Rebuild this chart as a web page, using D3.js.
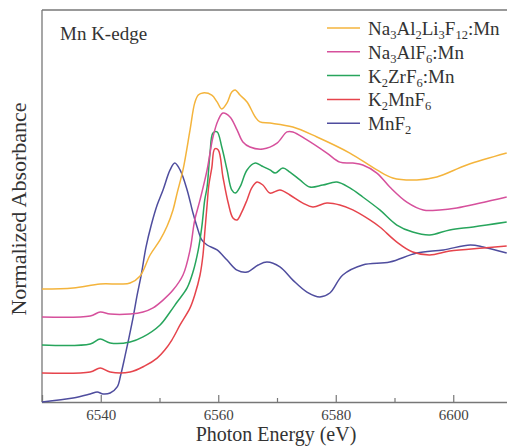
<!DOCTYPE html>
<html>
<head>
<meta charset="utf-8">
<script src="https://cdn.jsdelivr.net/npm/d3@7"></script>
<style>
  body { margin: 0; background: #fff; }
  svg { display: block; }
  svg text { font-family: "Liberation Serif", "Times New Roman", serif; }
</style>
</head>
<body>
<div id="chart"></div>
<script>
// Mn K-edge XANES spectra
var xTicks = [6540, 6560, 6580, 6600];
var xMinorTicks = [6550, 6570, 6590];

// Na3Al2Li3F12:Mn
var naliE = [6530, 6535.3, 6539.9, 6543.3, 6545.0, 6546.7, 6548.4, 6550.1, 6551.3, 6552.3, 6553.0, 6554.0, 6555.2, 6556.0, 6556.6, 6557.4, 6558.9, 6559.8, 6560.6, 6561.5, 6562.3, 6562.9, 6563.7, 6564.9, 6566.3, 6567.1, 6568.8, 6572.7, 6576.8, 6582.4, 6587.0, 6589.7, 6593.8, 6597.2, 6602.3, 6609.1];
var naliA = [0.577, 0.582, 0.602, 0.602, 0.607, 0.643, 0.750, 0.827, 0.898, 0.980, 1.066, 1.184, 1.388, 1.526, 1.566, 1.577, 1.566, 1.531, 1.495, 1.526, 1.582, 1.592, 1.566, 1.531, 1.454, 1.429, 1.423, 1.403, 1.352, 1.270, 1.184, 1.143, 1.133, 1.148, 1.209, 1.270];

// Na3AlF6:Mn
var naalE = [6530, 6538.2, 6539.9, 6541.6, 6545.0, 6547.2, 6548.9, 6550.6, 6552.3, 6554.0, 6555.2, 6556.0, 6556.9, 6558.1, 6559.1, 6560.0, 6560.8, 6562.0, 6563.2, 6564.2, 6565.4, 6567.6, 6570.0, 6571.7, 6572.7, 6575.1, 6578.5, 6580.7, 6582.9, 6584.6, 6587.0, 6589.2, 6592.1, 6594.9, 6597.7, 6600.6, 6604.6, 6609.1];
var naalA = [0.434, 0.439, 0.459, 0.449, 0.449, 0.459, 0.480, 0.520, 0.571, 0.648, 0.776, 0.929, 1.031, 1.184, 1.352, 1.439, 1.474, 1.454, 1.388, 1.327, 1.301, 1.291, 1.321, 1.378, 1.378, 1.337, 1.270, 1.224, 1.219, 1.209, 1.168, 1.097, 1.020, 0.980, 0.980, 0.990, 1.015, 1.046];

// K2ZrF6:Mn
var kzrE = [6530, 6538.2, 6539.9, 6541.6, 6545.0, 6547.2, 6550.1, 6551.8, 6553.0, 6554.7, 6555.7, 6556.6, 6557.2, 6557.7, 6558.1, 6558.6, 6559.1, 6559.8, 6560.6, 6561.5, 6562.3, 6562.9, 6563.7, 6564.9, 6566.3, 6567.4, 6568.8, 6569.7, 6571.0, 6572.2, 6573.9, 6575.6, 6577.8, 6580.2, 6582.4, 6584.6, 6587.5, 6590.4, 6593.1, 6596.0, 6599.4, 6603.4, 6609.1];
var kzrA = [0.291, 0.296, 0.321, 0.301, 0.306, 0.332, 0.393, 0.459, 0.510, 0.582, 0.663, 0.776, 0.893, 1.031, 1.097, 1.270, 1.372, 1.378, 1.301, 1.184, 1.082, 1.066, 1.097, 1.184, 1.219, 1.204, 1.184, 1.168, 1.194, 1.173, 1.133, 1.097, 1.107, 1.122, 1.092, 1.046, 0.980, 0.903, 0.867, 0.852, 0.878, 0.893, 0.918];

// K2MnF6
var kmnE = [6530, 6538.2, 6539.9, 6541.6, 6545.0, 6547.5, 6549.6, 6550.9, 6552.1, 6553.5, 6555.2, 6556.0, 6556.9, 6557.4, 6557.7, 6558.1, 6558.4, 6558.9, 6559.4, 6560.0, 6560.8, 6561.7, 6562.5, 6563.2, 6564.0, 6564.9, 6565.7, 6566.6, 6567.6, 6568.8, 6570.5, 6572.2, 6574.4, 6576.1, 6578.5, 6580.7, 6582.9, 6585.8, 6587.5, 6590.4, 6593.1, 6596.0, 6599.4, 6605.1, 6609.1];
var kmnA = [0.148, 0.153, 0.173, 0.153, 0.153, 0.184, 0.224, 0.265, 0.316, 0.393, 0.480, 0.546, 0.648, 0.750, 0.862, 1.005, 1.107, 1.194, 1.291, 1.286, 1.148, 1.015, 0.939, 0.929, 0.969, 1.031, 1.092, 1.122, 1.107, 1.066, 1.082, 1.056, 1.015, 0.995, 1.015, 1.005, 0.980, 0.929, 0.893, 0.816, 0.765, 0.750, 0.770, 0.786, 0.796];

// MnF2
var mnf2E = [6530, 6535.3, 6538.2, 6539.4, 6540.4, 6541.6, 6542.8, 6543.4, 6544.1, 6544.8, 6545.5, 6546.2, 6546.9, 6547.7, 6548.6, 6549.6, 6550.6, 6551.8, 6552.6, 6553.5, 6554.7, 6555.7, 6556.4, 6557.2, 6558.1, 6559.8, 6561.5, 6563.2, 6564.9, 6566.8, 6568.3, 6570.5, 6572.7, 6575.1, 6577.3, 6579.0, 6581.2, 6584.6, 6589.2, 6593.8, 6598.3, 6602.9, 6605.1, 6609.1];
var mnf2A = [0.000, 0.020, 0.041, 0.051, 0.041, 0.046, 0.077, 0.138, 0.230, 0.327, 0.430, 0.546, 0.650, 0.790, 0.903, 1.005, 1.082, 1.184, 1.219, 1.184, 1.082, 0.964, 0.893, 0.827, 0.801, 0.776, 0.724, 0.673, 0.663, 0.699, 0.714, 0.689, 0.622, 0.561, 0.536, 0.556, 0.648, 0.699, 0.714, 0.760, 0.776, 0.801, 0.791, 0.760];

// legend entries: parts as [text, isSubscript]
var seriesNames = [
    [["Na", 0], ["3", 1], ["Al", 0], ["2", 1], ["Li", 0], ["3", 1], ["F", 0], ["12", 1], [":Mn", 0]],
    [["Na", 0], ["3", 1], ["AlF", 0], ["6", 1], [":Mn", 0]],
    [["K", 0], ["2", 1], ["ZrF", 0], ["6", 1], [":Mn", 0]],
    [["K", 0], ["2", 1], ["MnF", 0], ["6", 1]],
    [["MnF", 0], ["2", 1]]
];
var seriesColors = ["#f4b43c", "#d6509c", "#27a55c", "#e6444c", "#4f4d9e"];

var series = [
    { e: naliE, a: naliA },
    { e: naalE, a: naalA },
    { e: kzrE, a: kzrA },
    { e: kmnE, a: kmnA },
    { e: mnf2E, a: mnf2A }
];

var svgWidth = 507;
var svgHeight = 446;
var margin = { top: 10, right: -5, bottom: 44, left: 42 };
var chartWidth = svgWidth - margin.left - margin.right;
var chartHeight = svgHeight - margin.top - margin.bottom;

var svg = d3.select('#chart').append('svg')
    .attr('width', svgWidth)
    .attr('height', svgHeight);

var chartGroup = svg.append('g')
    .attr('transform', `translate(${margin.left}, ${margin.top})`);

var xScale = d3.scaleLinear().domain([6530, 6610]).range([0, chartWidth]);
var yScale = d3.scaleLinear().domain([0, 2]).range([chartHeight, 0]);

// frame (left and top), bottom handled by axis
chartGroup.append('line')
    .attr('x1', 0).attr('x2', 0).attr('y1', 0).attr('y2', chartHeight)
    .attr('stroke', '#777').attr('stroke-width', 1.3);
chartGroup.append('line')
    .attr('x1', 0).attr('x2', chartWidth).attr('y1', 0).attr('y2', 0)
    .attr('stroke', '#777').attr('stroke-width', 1.3);

// bottom axis with inward ticks
var bottomAxis = d3.axisBottom(xScale).tickValues(xTicks).tickSize(-7).tickPadding(7).tickFormat(d3.format('d'));
var xAxisG = chartGroup.append('g')
    .attr('transform', `translate(0, ${chartHeight})`)
    .call(bottomAxis);
xAxisG.attr('font-family', null).attr('font-size', null);
xAxisG.select('.domain').attr('stroke', '#777').attr('stroke-width', 1.3);
xAxisG.selectAll('.tick line').attr('stroke', '#777').attr('stroke-width', 1.2);
xAxisG.selectAll('.tick text')
    .attr('fill', '#444')
    .style('font-size', '15px');

var minorAxis = d3.axisBottom(xScale).tickValues(xMinorTicks).tickSize(-4).tickFormat('');
var minorG = chartGroup.append('g')
    .attr('transform', `translate(0, ${chartHeight})`)
    .call(minorAxis);
minorG.select('.domain').remove();
minorG.selectAll('.tick line').attr('stroke', '#777').attr('stroke-width', 1.2);

// spectra
var line = d3.line()
    .x(d => xScale(d[0]))
    .y(d => yScale(d[1]))
    .curve(d3.curveCatmullRom.alpha(0.5));

// draw from bottom to top so the yellow curve sits above
for (var i = series.length - 1; i >= 0; i--) {
    var pts = series[i].e.map((e, j) => [e, series[i].a[j]]);
    chartGroup.append('path')
        .datum(pts)
        .attr('d', line)
        .attr('fill', 'none')
        .attr('stroke', seriesColors[i])
        .attr('stroke-width', 1.5)
        .attr('stroke-linejoin', 'round');
}

// panel label
chartGroup.append('text')
    .attr('x', 18)
    .attr('y', 30)
    .style('font-size', '19px')
    .attr('fill', '#333')
    .text('Mn K-edge');

// legend
var legend = svg.append('g').attr('transform', 'translate(327, 28)');
seriesNames.forEach(function (parts, i) {
    var row = legend.append('g').attr('transform', `translate(0, ${i * 23.8})`);
    row.append('line')
        .attr('x1', 0).attr('x2', 33).attr('y1', 0).attr('y2', 0)
        .attr('stroke', seriesColors[i]).attr('stroke-width', 1.5);
    var t = row.append('text')
        .attr('x', 41)
        .attr('y', 7)
        .attr('fill', '#333')
        .style('font-size', '19px');
    var shifted = false;
    parts.forEach(function (p) {
        var span = t.append('tspan').text(p[0]);
        if (p[1]) {
            span.style('font-size', '12.5px').attr('dy', shifted ? 0 : 4);
            shifted = true;
        } else {
            span.attr('dy', shifted ? -4 : 0);
            shifted = false;
        }
    });
});

// axis titles
svg.append('text')
    .attr('x', 276)
    .attr('y', 441)
    .attr('text-anchor', 'middle')
    .attr('fill', '#333')
    .style('font-size', '20px')
    .text('Photon Energy (eV)');

svg.append('text')
    .attr('transform', 'translate(26, 209) rotate(-90)')
    .attr('text-anchor', 'middle')
    .attr('fill', '#333')
    .style('font-size', '22px')
    .text('Normalized Absorbance');
</script>
</body>
</html>
